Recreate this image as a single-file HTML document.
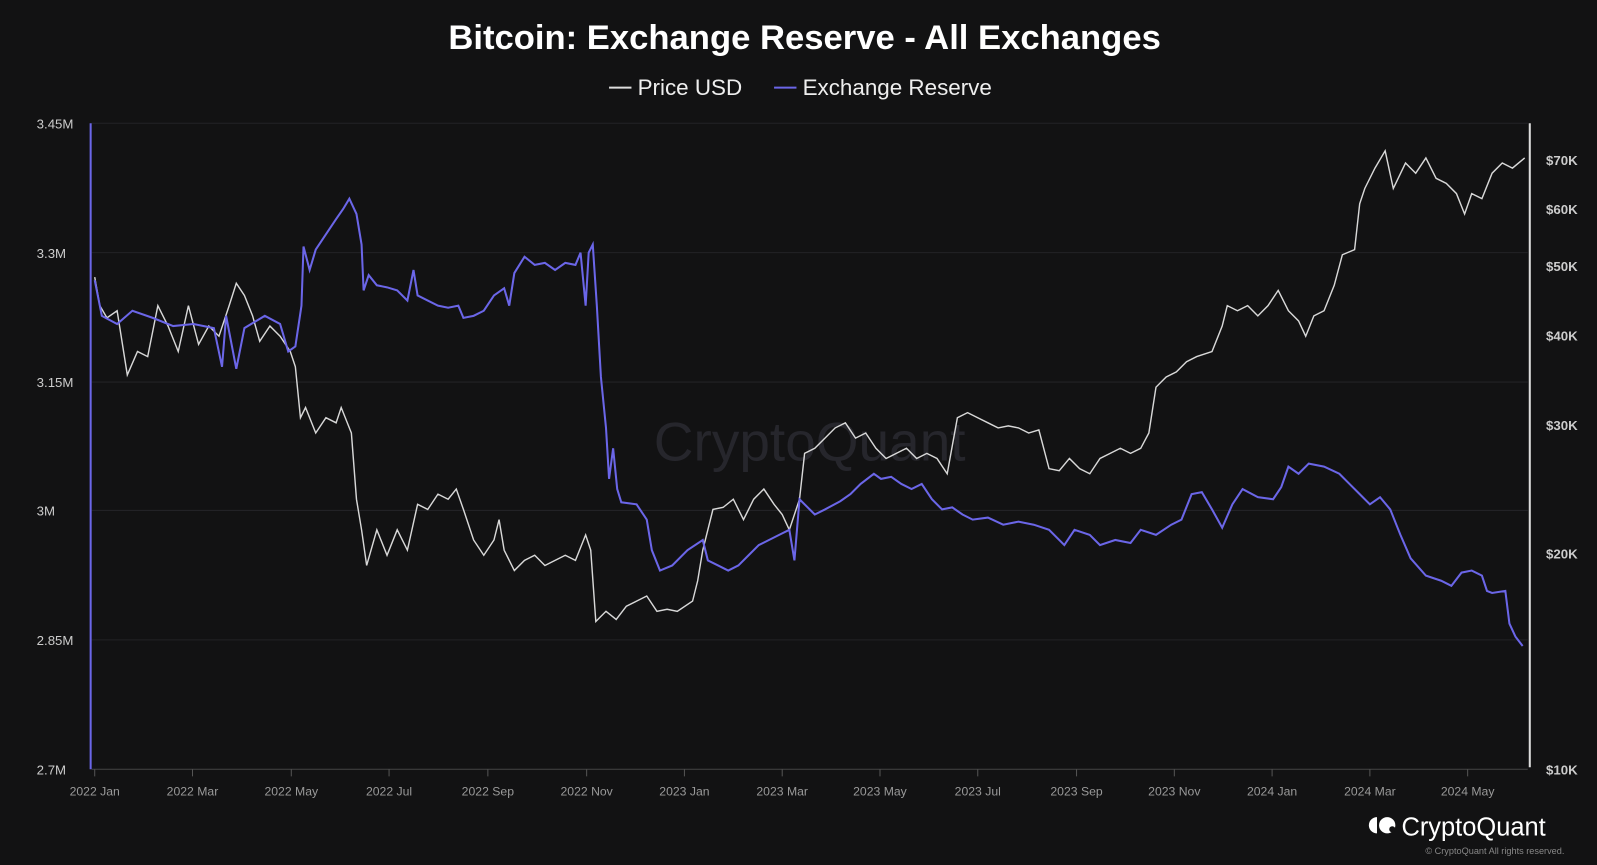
<!DOCTYPE html>
<html><head><meta charset="utf-8"><style>
html,body{margin:0;padding:0;background:#121213;}
svg{display:block;font-family:"Liberation Sans",sans-serif;}
</style></head><body>
<svg width="1597" height="865" viewBox="0 0 1568 849" preserveAspectRatio="none" xmlns="http://www.w3.org/2000/svg">
<rect width="1568" height="849" fill="#121213"/>
<text x="790" y="48" text-anchor="middle" fill="#fff" font-size="34" font-weight="bold">Bitcoin: Exchange Reserve - All Exchanges</text>
<line x1="598" y1="86" x2="620" y2="86" stroke="#ddd" stroke-width="2"/>
<text x="626" y="93" fill="#eee" font-size="22">Price USD</text>
<line x1="760" y1="86" x2="782" y2="86" stroke="#6b66e8" stroke-width="2"/>
<text x="788" y="93" fill="#eee" font-size="22">Exchange Reserve</text>
<g stroke="#222226" stroke-width="1">
<line x1="90" y1="121" x2="1500" y2="121"/><line x1="90" y1="248" x2="1500" y2="248"/>
<line x1="90" y1="375" x2="1500" y2="375"/><line x1="90" y1="501" x2="1500" y2="501"/>
<line x1="90" y1="628" x2="1500" y2="628"/>
</g>
<line x1="90" y1="755" x2="1500" y2="755" stroke="#444" stroke-width="1"/>
<line x1="1502" y1="121" x2="1502" y2="753" stroke="#ddd" stroke-width="2"/>
<g fill="#ccc" font-size="13">
<text x="36" y="126">3.45M</text><text x="36" y="253">3.3M</text><text x="36" y="380">3.15M</text>
<text x="36" y="506">3M</text><text x="36" y="633">2.85M</text><text x="36" y="760">2.7M</text>
</g>
<g fill="#ccc" font-size="13" font-weight="bold">
<text x="1518" y="162">$70K</text><text x="1518" y="210">$60K</text><text x="1518" y="266">$50K</text>
<text x="1518" y="334">$40K</text><text x="1518" y="422">$30K</text><text x="1518" y="548">$20K</text>
<text x="1518" y="760">$10K</text>
</g>
<g fill="#999" font-size="12" text-anchor="middle">
<text x="93" y="781">2022 Jan</text><text x="189" y="781">2022 Mar</text><text x="286" y="781">2022 May</text>
<text x="382" y="781">2022 Jul</text><text x="479" y="781">2022 Sep</text><text x="576" y="781">2022 Nov</text>
<text x="672" y="781">2023 Jan</text><text x="768" y="781">2023 Mar</text><text x="864" y="781">2023 May</text>
<text x="960" y="781">2023 Jul</text><text x="1057" y="781">2023 Sep</text><text x="1153" y="781">2023 Nov</text>
<text x="1249" y="781">2024 Jan</text><text x="1345" y="781">2024 Mar</text><text x="1441" y="781">2024 May</text>
</g>
<g stroke="#555" stroke-width="1">
<line x1="93" y1="755" x2="93" y2="762"/><line x1="189" y1="755" x2="189" y2="762"/><line x1="286" y1="755" x2="286" y2="762"/>
<line x1="382" y1="755" x2="382" y2="762"/><line x1="479" y1="755" x2="479" y2="762"/><line x1="576" y1="755" x2="576" y2="762"/>
<line x1="672" y1="755" x2="672" y2="762"/><line x1="768" y1="755" x2="768" y2="762"/><line x1="864" y1="755" x2="864" y2="762"/>
<line x1="960" y1="755" x2="960" y2="762"/><line x1="1057" y1="755" x2="1057" y2="762"/><line x1="1153" y1="755" x2="1153" y2="762"/>
<line x1="1249" y1="755" x2="1249" y2="762"/><line x1="1345" y1="755" x2="1345" y2="762"/><line x1="1441" y1="755" x2="1441" y2="762"/>
</g>
<text x="795" y="452" text-anchor="middle" fill="#26262c" font-size="54">CryptoQuant</text>
<polyline fill="none" stroke="#d8d8d8" stroke-width="1.4" points="93,272 98,300 105,312 115,305 125,368 135,345 145,350 155,300 165,320 175,345 185,300 195,338 205,320 215,330 225,300 232,278 240,290 248,310 255,335 265,320 275,330 285,345 290,360 295,410 300,400 310,425 320,410 330,415 335,400 345,425 350,490 355,520 360,555 370,520 380,545 390,520 400,540 410,495 420,500 430,485 440,490 448,480 455,500 465,530 475,545 485,530 490,510 495,540 505,560 515,550 525,545 535,555 545,550 555,545 565,550 575,525 580,540 585,610 595,600 605,608 615,595 625,590 635,585 645,600 655,598 665,600 680,590 685,570 690,540 700,500 710,498 720,490 730,510 740,490 750,480 760,495 768,505 775,520 785,490 790,445 800,440 810,430 820,420 830,415 840,430 850,425 860,440 870,450 880,445 890,440 900,450 910,445 920,450 930,465 940,410 950,405 960,410 970,415 980,420 990,418 1000,420 1010,425 1020,422 1030,460 1040,462 1050,450 1060,460 1070,465 1080,450 1090,445 1100,440 1110,445 1120,440 1128,425 1135,380 1145,370 1155,365 1165,355 1175,350 1190,345 1200,320 1205,300 1215,305 1225,300 1235,310 1245,300 1255,285 1265,305 1275,315 1282,330 1290,310 1300,305 1310,280 1318,250 1330,245 1335,200 1340,185 1350,165 1360,148 1368,185 1380,160 1390,170 1400,155 1410,175 1420,180 1430,190 1438,210 1445,190 1455,195 1465,170 1475,160 1485,165 1497,155"/>
<polyline fill="none" stroke="#6b66e8" stroke-width="2" points="89,121 89,755"/>
<polyline fill="none" stroke="#6b66e8" stroke-width="2" points="93,275 100,310 115,318 130,305 150,312 170,320 190,318 210,322 218,360 222,310 232,362 240,322 260,310 275,318 283,345 290,340 296,300 298,242 304,265 310,245 320,230 330,215 337,205 343,195 350,210 355,240 357,285 362,270 370,280 380,282 390,285 400,295 406,265 410,290 420,295 430,300 440,302 450,300 455,312 465,310 475,305 485,290 495,283 500,300 505,268 515,252 525,260 535,258 545,265 555,258 565,260 570,248 575,300 578,248 582,240 586,300 590,370 595,420 598,470 602,440 606,480 610,493 625,495 635,510 640,540 648,560 660,555 675,540 690,530 695,550 705,555 715,560 725,555 735,545 745,535 755,530 765,525 775,520 780,550 785,490 800,505 810,500 825,492 835,485 845,475 858,465 865,470 875,468 885,475 895,480 905,475 915,490 925,500 935,498 945,505 955,510 970,508 985,515 1000,512 1015,515 1030,520 1045,535 1055,520 1070,525 1080,535 1095,530 1110,533 1120,520 1135,525 1150,515 1160,510 1170,485 1180,483 1190,500 1200,518 1210,495 1220,480 1235,488 1250,490 1258,478 1265,458 1275,465 1285,455 1300,458 1315,465 1325,475 1335,485 1345,495 1355,488 1365,500 1375,525 1385,548 1400,565 1415,570 1425,575 1435,562 1445,560 1455,565 1460,580 1465,582 1478,580 1482,612 1488,625 1495,634"/>
<g fill="#fff">
<path d="M1352,802 a8,8 0 0 0 0,16 z"/>
<circle cx="1362" cy="810" r="8"/>
</g>
<circle cx="1367" cy="814" r="3" fill="#121213"/>
<text x="1376" y="820" fill="#fff" font-size="25">CryptoQuant</text>
<text x="1536" y="838" text-anchor="end" fill="#888" font-size="9">© CryptoQuant All rights reserved.</text>
</svg>
</body></html>
